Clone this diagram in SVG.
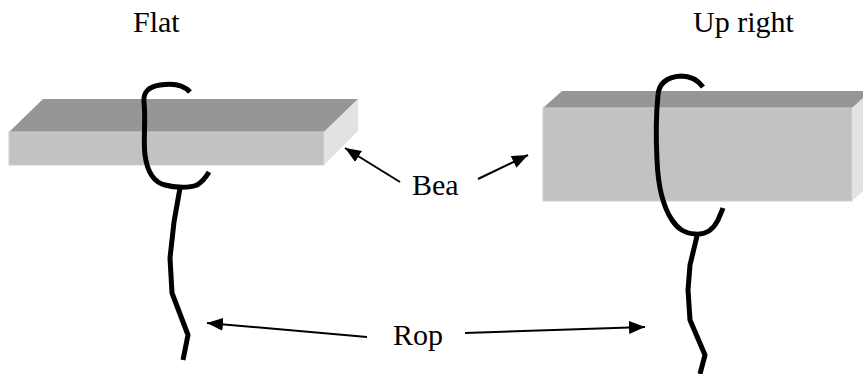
<svg xmlns="http://www.w3.org/2000/svg" width="863" height="374" viewBox="0 0 863 374">
  <defs>
    <marker id="head" markerUnits="userSpaceOnUse" markerWidth="17" markerHeight="13" refX="16" refY="6.5" orient="auto">
      <path d="M0,0 L16,6.5 L0,13 Z" fill="#000"/>
    </marker>
  </defs>
  <style>
    .label { font-family: "Liberation Serif", "Times New Roman", serif; font-size: 30px; fill: #000; }
    .top { fill: #969696; }
    .front { fill: #c2c2c2; stroke: #cfcfcf; stroke-width: 1; }
    .side { fill: #e2e2e2; }
    .rope { fill: none; stroke: #000; stroke-width: 5; stroke-linecap: butt; stroke-linejoin: round; }
    .arrow { fill: none; stroke: #000; stroke-width: 2; marker-end: url(#head); }
  </style>
  <rect width="863" height="374" fill="#fff"/>

  <!-- headings -->
  <text class="label" x="133" y="32">Flat</text>
  <text class="label" x="693" y="32">Up right</text>

  <!-- beam lying flat -->
  <g id="beam-flat">
    <polygon class="top" points="9,132 43,99 358,99 324,132"/>
    <rect class="front" x="9" y="132" width="315" height="33"/>
    <polygon class="side" points="324,132 358,99 358,131 324,165"/>
  </g>

  <!-- beam standing upright -->
  <g id="beam-upright">
    <polygon class="top" points="543,108 562,91 871,91 852,108"/>
    <rect class="front" x="543" y="108" width="309" height="93"/>
    <polygon class="side" points="852,108 871,91 871,184 852,201"/>
  </g>

  <!-- rope hooked over the flat beam -->
  <g id="rope-flat">
    <path class="rope" d="M190,92 C183,84 172,83 160,85 C147,87 143,93 144,103 C146,120 143,140 145,155 C147,170 153,182 165,185 C175,188 190,188 197,185 C202,182 206,177 209,172"/>
    <path class="rope" d="M180,188 L174,222 L170,258 L172,293 L188,335 L183,360"/>
  </g>

  <!-- rope hooked over the upright beam -->
  <g id="rope-upright">
    <path class="rope" d="M703,87 C697,79 690,76 681,76 C668,77 659,82 658,95 C656,115 656,140 657,160 C658,185 662,205 672,220 C678,229 684,233 695,234 C705,235 713,230 718,220 C720,215 722,211 723,208"/>
    <path class="rope" d="M697,236 L690,265 L688,290 L690,320 L705,355 L700,374"/>
  </g>

  <!-- labels -->
  <g id="label-bea">
    <text class="label" x="412" y="195">Bea</text>
  </g>
  <g id="label-rop">
    <text class="label" x="393" y="345">Rop</text>
  </g>

  <!-- pointers -->
  <g id="connectors">
    <line class="arrow" x1="400" y1="182" x2="345" y2="148"/>
    <line class="arrow" x1="478" y1="179" x2="528" y2="155"/>
    <line class="arrow" x1="367" y1="337" x2="207" y2="323"/>
    <line class="arrow" x1="465" y1="333" x2="645" y2="327"/>
  </g>
</svg>
